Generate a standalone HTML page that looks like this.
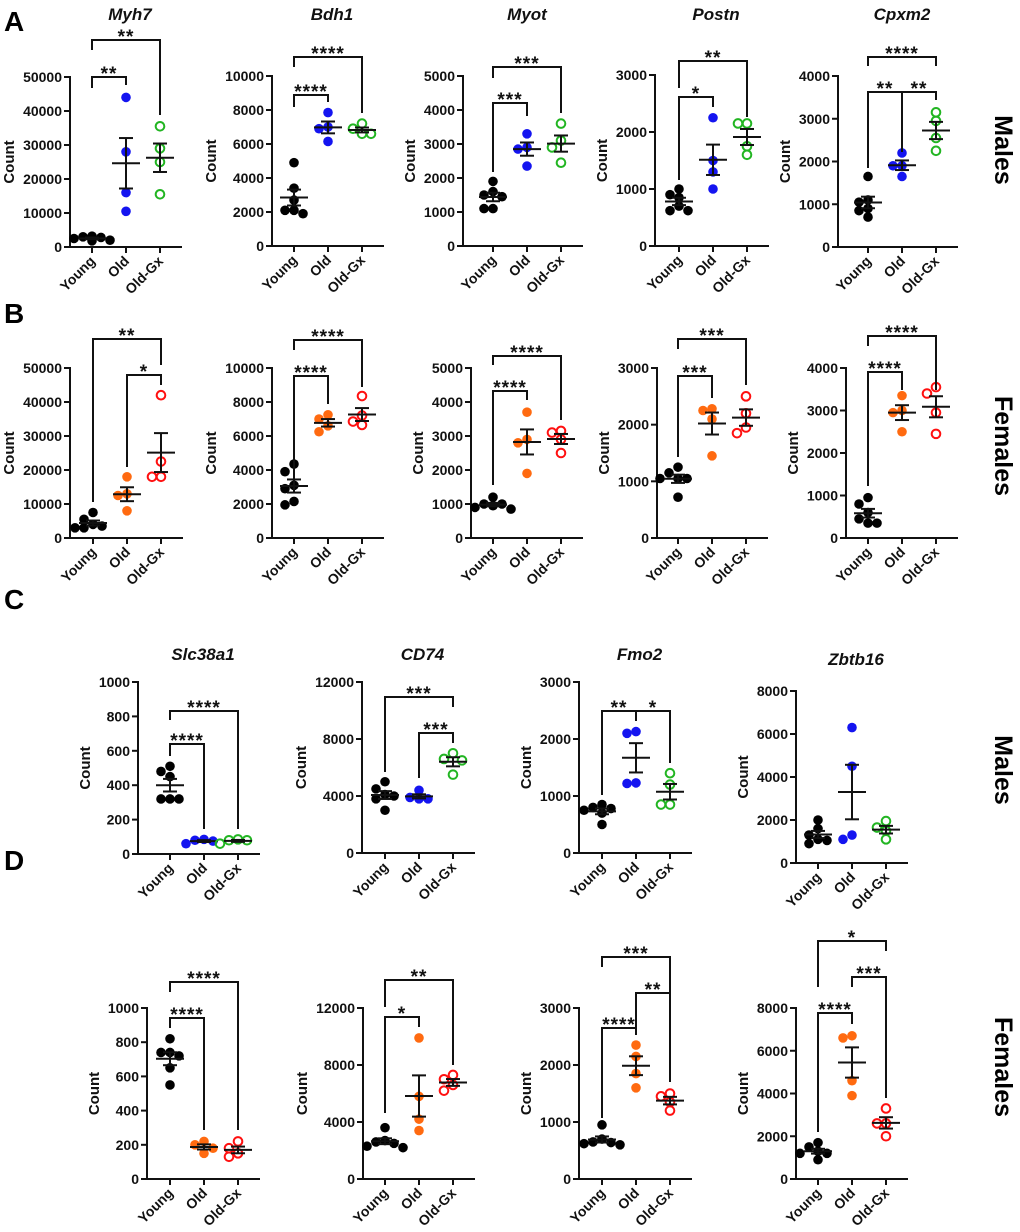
<!DOCTYPE html>
<html><head><meta charset="utf-8">
<style>
html,body{margin:0;padding:0;background:#fff;}
svg{display:block;font-family:"Liberation Sans",Arial,sans-serif;}
</style></head>
<body>
<svg id="fig" width="1020" height="1232" viewBox="0 0 1020 1232" xmlns="http://www.w3.org/2000/svg">
<text x="4" y="31" font-size="28" font-weight="bold">A</text>
<text x="4" y="323" font-size="28" font-weight="bold">B</text>
<text x="4" y="609" font-size="28" font-weight="bold">C</text>
<text x="4" y="870" font-size="28" font-weight="bold">D</text>
<text transform="translate(995,150) rotate(90)" text-anchor="middle" font-size="25" font-weight="bold">Males</text>
<text transform="translate(995,446) rotate(90)" text-anchor="middle" font-size="25" font-weight="bold">Females</text>
<text transform="translate(995,770) rotate(90)" text-anchor="middle" font-size="25" font-weight="bold">Males</text>
<text transform="translate(995,1067) rotate(90)" text-anchor="middle" font-size="25" font-weight="bold">Females</text>
</svg>
<script>
const groups = ["Young","Old","Old-Gx"];
// Row A (males)
const myh7M_young=[2000,2500,3000,3200,2800,1800], myh7M_old=[44000,28000,16000,10500], myh7M_gx=[35500,29000,25000,15500];
const bdh1M_young=[4900,3400,2700,2100,1900,2100], bdh1M_old=[7850,7000,6900,6150], bdh1M_gx=[7200,6900,6600,6600];
const myotM_young=[1900,1600,1450,1500,1100,1100], myotM_old=[3300,2900,2850,2350], myotM_gx=[3600,3100,2900,2450];
const postnM_young=[1000,850,900,700,620,620], postnM_old=[2250,1500,1300,1000], postnM_gx=[2150,2150,1750,1600];
const cpxm2M_young=[1650,1100,1050,900,850,700], cpxm2M_old=[2200,1900,1900,1650], cpxm2M_gx=[3150,2950,2550,2250];
// Row B (females)
const myh7F_young=[7500,5500,4000,3000,3000,3500], myh7F_old=[18000,13000,12500,8000], myh7F_gx=[42000,22500,18000,18000];
const bdh1F_young=[4350,3900,3100,2900,2150,1950], bdh1F_old=[7250,7000,6600,6250], bdh1F_gx=[8350,7200,6850,6650];
const myotF_young=[1200,1000,1000,950,900,850], myotF_old=[3700,2900,2800,1900], myotF_gx=[3150,3100,2900,2500];
const postnF_young=[1250,1150,1050,1050,1050,720], postnF_old=[2280,2250,2100,1450], postnF_gx=[2500,2200,1950,1850];
const cpxm2F_young=[950,800,600,450,350,350], cpxm2F_old=[3350,3000,2950,2500], cpxm2F_gx=[3550,3400,2950,2450];
// Row C (males)
const slcM_young=[510,480,450,320,320,320], slcM_old=[60,75,80,85], slcM_gx=[60,80,80,85];
const cd74M_young=[5000,4500,4100,4000,3800,3000], cd74M_old=[4400,3800,3800,3900], cd74M_gx=[7000,6600,6500,5500];
const fmo2M_young=[850,800,780,750,700,500], fmo2M_old=[2100,2130,1220,1230], fmo2M_gx=[1400,1200,850,850];
const zbtbM_young=[2000,1600,1300,1100,900,1050], zbtbM_old=[6300,4500,1300,1100], zbtbM_gx=[1950,1650,1500,1100];
// Row D (females)
const slcF_young=[820,740,740,720,650,550], slcF_old=[220,200,180,150], slcF_gx=[220,180,150,130];
const cd74F_young=[3600,2700,2600,2500,2300,2200], cd74F_old=[9900,5800,4200,3400], cd74F_gx=[7300,7000,6600,6200];
const fmo2F_young=[950,700,650,640,620,600], fmo2F_old=[2350,2150,1850,1600], fmo2F_gx=[1500,1450,1350,1200];
const zbtbF_young=[1700,1500,1300,1200,1200,900], zbtbF_old=[6700,6600,4600,3900], zbtbF_gx=[3300,2600,2600,2000];
// y-axis maxima / steps
const yMax = {myh7:50000,bdh1:10000,myot:5000,postn:3000,cpxm2:4000,slc:1000,cd74:12000,fmo2:3000,zbtb:8000};
const yStep = {myh7:10000,bdh1:2000,myot:1000,postn:1000,cpxm2:1000,slc:200,cd74:4000,fmo2:1000,zbtb:2000};

const BLUE="#1414f0", GREEN="#22b522", ORANGE="#ff6a10", RED="#ff1010";
const panels = [
 {id:"myh7-m",title:"Myh7",ty:20,k:"myh7",d:[myh7M_young,myh7M_old,myh7M_gx],ax:70,c0:92,T:77,B:247,col:BLUE,gcol:GREEN,br:[[0,1,0,11,8,"**"],[0,2,-37,-27,38,"**"]]},
 {id:"bdh1-m",title:"Bdh1",ty:20,k:"bdh1",d:[bdh1M_young,bdh1M_old,bdh1M_gx],ax:272,c0:294,T:76,B:246,col:BLUE,gcol:GREEN,br:[[0,1,19,31,26,"****"],[0,2,-19,-9,37,"****"]]},
 {id:"myot-m",title:"Myot",ty:20,k:"myot",d:[myotM_young,myotM_old,myotM_gx],ax:463,c0:493,T:76,B:246,col:BLUE,gcol:GREEN,br:[[0,1,27,96,40,"***"],[0,2,-9,2,37,"***"]]},
 {id:"postn-m",title:"Postn",ty:20,k:"postn",d:[postnM_young,postnM_old,postnM_gx],ax:655,c0:679,T:75,B:246,col:BLUE,gcol:GREEN,br:[[0,1,22,105,32,"*"],[0,2,-14,13,42,"**"]]},
 {id:"cpxm2-m",title:"Cpxm2",ty:20,k:"cpxm2",d:[cpxm2M_young,cpxm2M_old,cpxm2M_gx],ax:838,c0:868,T:76,B:247,col:BLUE,gcol:GREEN,br:[[0,2,-19,-10,-10,"****"],[0,1,16,92,31,"**"],[1,2,16,76,24,"**"]]},
 {id:"myh7-f",k:"myh7",d:[myh7F_young,myh7F_old,myh7F_gx],ax:70,c0:93,T:368,B:538,col:ORANGE,gcol:RED,br:[[0,2,-29,134,-3,"**"],[1,2,7,99,17,"*"]]},
 {id:"bdh1-f",k:"bdh1",d:[bdh1F_young,bdh1F_old,bdh1F_gx],ax:272,c0:294,T:368,B:538,col:ORANGE,gcol:RED,br:[[0,2,-28,-18,19,"****"],[0,1,8,114,36,"****"]]},
 {id:"myot-f",k:"myot",d:[myotF_young,myotF_old,myotF_gx],ax:471,c0:493,T:368,B:538,col:ORANGE,gcol:RED,br:[[0,2,-12,-3,52,"****"],[0,1,23,117,32,"****"]]},
 {id:"postn-f",k:"postn",d:[postnF_young,postnF_old,postnF_gx],ax:657,c0:678,T:368,B:538,col:ORANGE,gcol:RED,br:[[0,2,-29,-19,17,"***"],[0,1,8,89,30,"***"]]},
 {id:"cpxm2-f",k:"cpxm2",d:[cpxm2F_young,cpxm2F_old,cpxm2F_gx],ax:846,c0:868,T:368,B:538,col:ORANGE,gcol:RED,br:[[0,2,-32,-22,22,"****"],[0,1,4,118,22,"****"]]},
 {id:"slc38a1-m",title:"Slc38a1",ty:660,k:"slc",d:[slcM_young,slcM_old,slcM_gx],ax:138,c0:170,T:682,B:854,col:BLUE,gcol:GREEN,br:[[0,2,29,38,147,"****"],[0,1,62,74,147,"****"]]},
 {id:"cd74-m",title:"CD74",ty:660,k:"cd74",d:[cd74M_young,cd74M_old,cd74M_gx],ax:362,c0:385,T:682,B:853,col:BLUE,gcol:GREEN,br:[[0,2,15,90,25,"***"],[1,2,51,96,61,"***"]]},
 {id:"fmo2-m",title:"Fmo2",ty:660,k:"fmo2",d:[fmo2M_young,fmo2M_old,fmo2M_gx],ax:579,c0:602,T:682,B:853,col:BLUE,gcol:GREEN,br:[[0,1,29,113,39,"**"],[1,2,29,39,81,"*"]]},
 {id:"zbtb16-m",title:"Zbtb16",ty:665,k:"zbtb",d:[zbtbM_young,zbtbM_old,zbtbM_gx],ax:796,c0:818,T:691,B:863,col:BLUE,gcol:GREEN,br:[]},
 {id:"slc38a1-f",k:"slc",d:[slcF_young,slcF_old,slcF_gx],ax:147,c0:170,T:1008,B:1179,col:ORANGE,gcol:RED,br:[[0,2,-26,-16,122,"****"],[0,1,10,20,122,"****"]]},
 {id:"cd74-f",k:"cd74",d:[cd74F_young,cd74F_old,cd74F_gx],ax:363,c0:385,T:1008,B:1179,col:ORANGE,gcol:RED,br:[[0,2,-28,-1,57,"**"],[0,1,9,105,19,"*"]]},
 {id:"fmo2-f",k:"fmo2",d:[fmo2F_young,fmo2F_old,fmo2F_gx],ax:579,c0:602,T:1008,B:1179,col:ORANGE,gcol:RED,br:[[0,2,-51,-41,74,"***"],[1,2,-15,27,74,"**"],[0,1,20,110,27,"****"]]},
 {id:"zbtb16-f",k:"zbtb",d:[zbtbF_young,zbtbF_old,zbtbF_gx],ax:796,c0:818,T:1008,B:1179,col:ORANGE,gcol:RED,br:[[0,2,-67,-21,-57,"*"],[1,2,-31,-21,90,"***"],[0,1,5,124,16,"****"]]}
];

const NS="http://www.w3.org/2000/svg";
const svg=document.getElementById("fig");
function mk(tag,attrs,parent){const e=document.createElementNS(NS,tag);for(const a in attrs)e.setAttribute(a,attrs[a]);(parent||svg).appendChild(e);return e;}

panels.forEach(p=>{
  const g=mk("g",{});
  
  
  const max=yMax[p.k], step=yStep[p.k];
  const y=v=>p.B-(v/max)*(p.B-p.T);
  const cx=i=>p.c0+i*34;
  const xEnd=cx(2)+22;
  const ya=mk("line",{x1:p.ax,y1:p.T-1,x2:p.ax,y2:p.B+1,stroke:"#111","stroke-width":2},g);
  
  
  const xa=mk("line",{x1:p.ax-1,y1:p.B,x2:xEnd,y2:p.B,stroke:"#111","stroke-width":2},g);
  
  
  let maxW=0;
  for(let v=0;v<=max;v+=step){
    mk("line",{x1:p.ax-6,y1:y(v),x2:p.ax,y2:y(v),stroke:"#111","stroke-width":2},g);
    const t=mk("text",{x:p.ax-8,y:y(v)+5,"text-anchor":"end","font-size":14,"font-weight":"bold",fill:"#111"},g);
    t.textContent=String(v);
    
    
    maxW=Math.max(maxW,String(v).length*7.8);
  }
  const ct=mk("text",{transform:`translate(${p.ax-maxW-17},${(p.T+p.B)/2}) rotate(-90)`,"text-anchor":"middle","font-size":15,"font-weight":"bold",fill:"#111"},g);
  ct.textContent="Count";
  
  
  if(p.title){
    const tt=mk("text",{x:(p.ax+xEnd)/2+4,y:p.ty,"text-anchor":"middle","font-size":17,"font-weight":"bold","font-style":"italic",fill:"#111"},g);
    tt.textContent=p.title;
    
    
  }
  groups.forEach((gn,i)=>{
    mk("line",{x1:cx(i),y1:p.B,x2:cx(i),y2:p.B+6,stroke:"#111","stroke-width":2},g);
    const t=mk("text",{transform:`translate(${cx(i)+4},${p.B+15}) rotate(-45)`,"text-anchor":"end","font-size":14,"font-weight":"bold",fill:"#111"},g);
    t.textContent=gn;
    
    
    const vals=p.d[i];
    const placed=[];
    const order=vals.map((v,j)=>j).sort((a,b)=>vals[b]-vals[a]);
    order.forEach(j=>{
      const py=y(vals[j]);
      const cands=[0,-9,9,-18,18];
      let px=cx(i);
      for(const o of cands){const X=cx(i)+o;if(placed.every(q=>Math.hypot(q[0]-X,q[1]-py)>=8.5)){px=X;break;}}
      placed.push([px,py]);
      let c;
      if(i===0) c=mk("circle",{cx:px,cy:py,r:4.8,fill:"#000"},g);
      else if(i===1) c=mk("circle",{cx:px,cy:py,r:4.8,fill:p.col},g);
      else c=mk("circle",{cx:px,cy:py,r:4.3,fill:"none",stroke:p.gcol,"stroke-width":2},g);
      
      
    });
    const n=vals.length, mean=vals.reduce((a,b)=>a+b,0)/n;
    const sd=Math.sqrt(vals.reduce((a,b)=>a+(b-mean)*(b-mean),0)/(n-1)), sem=sd/Math.sqrt(n);
    const eg=mk("g",{stroke:"#111","stroke-width":2},g);
    
    
    mk("line",{x1:cx(i)-14,y1:y(mean),x2:cx(i)+14,y2:y(mean)},eg);
    mk("line",{x1:cx(i),y1:y(mean+sem),x2:cx(i),y2:y(mean-sem)},eg);
    mk("line",{x1:cx(i)-7,y1:y(mean+sem),x2:cx(i)+7,y2:y(mean+sem)},eg);
    mk("line",{x1:cx(i)-7,y1:y(mean-sem),x2:cx(i)+7,y2:y(mean-sem)},eg);
  });
  p.br.forEach(b=>{
    const [a,c,bar,le,re,lab]=b;
    const x1=cx(a),x2=cx(c);
    const pl=mk("polyline",{points:`${x1},${p.T+le} ${x1},${p.T+bar} ${x2},${p.T+bar} ${x2},${p.T+re}`,fill:"none",stroke:"#111","stroke-width":2},g);
    
    
    const t=mk("text",{x:(x1+x2)/2,y:p.T+bar+3,"text-anchor":"middle","font-size":19,"font-weight":"bold",fill:"#111","letter-spacing":"1"},g);
    t.textContent=lab;
    
    
  });
});
</script>
</body></html>
